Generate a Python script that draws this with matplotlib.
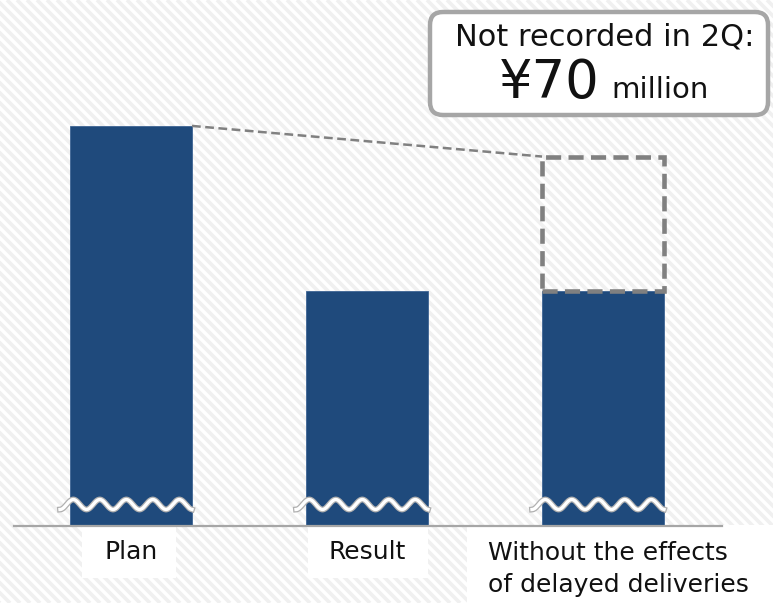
import matplotlib
matplotlib.use("Agg")
import matplotlib.pyplot as plt
import numpy as np
from matplotlib.patches import Rectangle, FancyBboxPatch
import matplotlib.patheffects as pe

# ---- data ----
categories = ["Plan", "Result", "Without the effects\nof delayed deliveries"]
values = [209, 123, 123]
not_recorded = 70          # ¥70 million added on the third bar (dashed)
callout_line1 = "Not recorded in 2Q:"
callout_amount = "¥70"
callout_unit = "million"

W, H = 773, 603
fig = plt.figure(figsize=(W / 100, H / 100), dpi=100)
plt.rcParams['font.family'] = ['DejaVu Sans']

# background axes in pixel coordinates (y down)
bg = fig.add_axes([0, 0, 1, 1])
bg.set_xlim(0, W)
bg.set_ylim(H, 0)
bg.axis("off")
for x0 in range(-H, W + 10, 10):
    bg.plot([x0, x0 + H], [0, H], color="#f0f0f0", lw=2.6, solid_capstyle="butt", zorder=0)

# label white boxes
bg.add_patch(Rectangle((82, 527), 94, 51, facecolor="white", edgecolor="none", zorder=1))
bg.add_patch(Rectangle((308, 527), 120, 51, facecolor="white", edgecolor="none", zorder=1))
bg.add_patch(Rectangle((467, 525), 310, 80, facecolor="white", edgecolor="none", zorder=1))

# main axes
ax = fig.add_axes([0, 0, 1, 1], zorder=2)
ax.patch.set_alpha(0)
px_per_unit = 134 / 70.0
xc0, dx = 131, 236
ax.set_xlim((0 - xc0) / dx, (W - xc0) / dx)
ax.set_ylim(-(H - 526) / px_per_unit, 526 / px_per_unit)
ax.axis("off")

x = np.arange(len(categories))
width = 122 / dx
bar_color = "#1F4A7C"
ax.bar(x, values, width=width, color=bar_color, edgecolor="#3d6494", linewidth=0.6, zorder=3)

# baseline
ax.plot([(14 - xc0) / dx, (722 - xc0) / dx], [0, 0], color="#a6a6a6", lw=1.6, zorder=4)

# dashed box for not-recorded amount
ax.add_patch(Rectangle((x[2] - width / 2, values[2]), width, not_recorded,
                       facecolor="none", edgecolor="#808080", lw=3.3,
                       linestyle=(0, (3.3, 1.6)), zorder=5))

# connector dashed line
ax.plot([x[0] + width / 2, x[2] - width / 2], [values[0], values[2] + not_recorded],
        color="#808080", lw=1.8, dashes=(3.5, 1.8), zorder=4)

# wavy break marks
yw = 21.5 / px_per_unit
amp = 5 / px_per_unit
for xi in x:
    xs = np.linspace(xi - width / 2 - 10 / dx, xi + width / 2, 200)
    phase = (xs - xs[0]) * dx / 26.5 * 2 * np.pi
    ys = yw - amp * np.cos(phase)
    ax.plot(xs, ys, color="white", lw=2.4, zorder=6,
            path_effects=[pe.Stroke(linewidth=4.2, foreground="#b0b0b0"), pe.Normal()])

# category labels
lab_y = -(552 - 526) / px_per_unit
ax.text(x[0], lab_y, categories[0], ha="center", va="center", fontsize=18, color="#111111", zorder=7)
ax.text(x[1], lab_y, categories[1], ha="center", va="center", fontsize=18, color="#111111", zorder=7)
ax.text((488 - xc0) / dx, -(569 - 526) / px_per_unit, categories[2], ha="left", va="center",
        fontsize=18, color="#111111", linespacing=1.4, zorder=7)

# callout box
bg2 = fig.add_axes([0, 0, 1, 1], zorder=8)
bg2.set_xlim(0, W)
bg2.set_ylim(H, 0)
bg2.axis("off")
bg2.patch.set_alpha(0)
bg2.add_patch(FancyBboxPatch((430, 12), 338, 103, boxstyle="round,pad=0,rounding_size=13",
                             facecolor="white", edgecolor="#a6a6a6", lw=3.2))
bg2.text(605, 37, callout_line1, ha="center", va="center", fontsize=22, color="#111111")
bg2.text(549, 98, callout_amount, ha="center", va="baseline", fontsize=38, color="#111111")
bg2.text(660, 98, callout_unit, ha="center", va="baseline", fontsize=21, color="#111111")

fig.savefig("out.png", dpi=100)
